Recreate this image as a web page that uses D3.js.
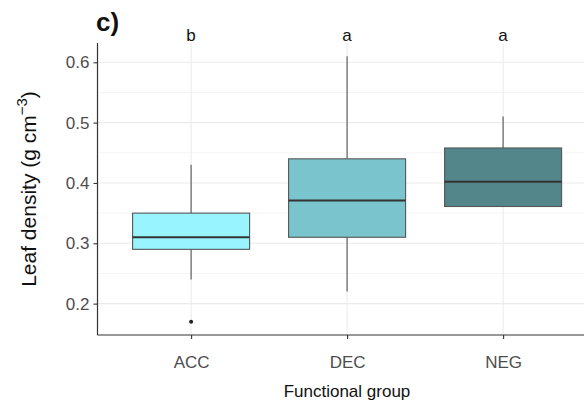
<!DOCTYPE html>
<html><head><meta charset="utf-8">
<script src="https://cdn.jsdelivr.net/npm/d3@7"></script>
<style>body{margin:0;background:#fff}svg{display:block;font-family:"Liberation Sans",Arial,sans-serif}</style>
</head><body><svg id="c" width="584" height="401"></svg>
<script>
const categories = ["ACC", "DEC", "NEG"];
const lowerWhisker = [0.24, 0.22, 0.36];
const q1 = [0.29, 0.31, 0.361];
const median = [0.31, 0.371, 0.402];
const q3 = [0.35, 0.44, 0.458];
const upperWhisker = [0.43, 0.61, 0.51];
const outliers = [[0.17], [], []];
const fills = ["#98F5FF", "#7AC5CD", "#53868B"];
const sigLetters = ["b", "a", "a"];
const yTicks = [0.2, 0.3, 0.4, 0.5, 0.6];
const yMinor = [0.25, 0.35, 0.45, 0.55];

(function () {
const svg = d3.select("#c");
const pLeft = 97.5, pBottom = 335, pTop = 43;
const step = 156;
const pRight = pLeft + 3.2 * step;
const x = d3.scalePoint().domain(categories).range([pLeft + 0.6 * step, pRight - 0.6 * step]);
const y = d3.scaleLinear().domain([0.148, 0.632]).range([pBottom, pTop]);
const bw = 0.75 * step;

const g = svg.append("g");
g.selectAll(".minor").data(yMinor).join("line")
  .attr("x1", pLeft).attr("x2", pRight).attr("y1", d => y(d)).attr("y2", d => y(d))
  .attr("stroke", "#F2F2F2").attr("stroke-width", 0.8);
g.selectAll(".major").data(yTicks).join("line")
  .attr("x1", pLeft).attr("x2", pRight).attr("y1", d => y(d)).attr("y2", d => y(d))
  .attr("stroke", "#EBEBEB").attr("stroke-width", 1.1);
g.selectAll(".vmajor").data(categories).join("line")
  .attr("x1", d => x(d)).attr("x2", d => x(d)).attr("y1", pTop).attr("y2", pBottom)
  .attr("stroke", "#EBEBEB").attr("stroke-width", 1.1);

categories.forEach((c, i) => {
  const cx = x(c);
  const bg = g.append("g");
  bg.append("line").attr("x1", cx).attr("x2", cx).attr("y1", y(upperWhisker[i])).attr("y2", y(q3[i]))
    .attr("stroke", "#555").attr("stroke-width", 1.1);
  bg.append("line").attr("x1", cx).attr("x2", cx).attr("y1", y(q1[i])).attr("y2", y(lowerWhisker[i]))
    .attr("stroke", "#555").attr("stroke-width", 1.1);
  bg.append("rect").attr("x", cx - bw / 2).attr("width", bw)
    .attr("y", y(q3[i])).attr("height", y(q1[i]) - y(q3[i]))
    .attr("fill", fills[i]).attr("stroke", "#555").attr("stroke-width", 1.1);
  bg.append("line").attr("x1", cx - bw / 2).attr("x2", cx + bw / 2).attr("y1", y(median[i])).attr("y2", y(median[i]))
    .attr("stroke", "#333").attr("stroke-width", 2);
  bg.selectAll("circle").data(outliers[i]).join("circle")
    .attr("cx", cx).attr("cy", d => y(d)).attr("r", 2).attr("fill", "#222");
  svg.append("text").attr("x", cx).attr("y", 41).attr("text-anchor", "middle")
    .attr("font-size", 17).attr("fill", "#111").text(sigLetters[i]);
});

const ya = svg.append("g").attr("transform", `translate(${pLeft},0)`)
  .call(d3.axisLeft(y).tickValues(yTicks).tickSize(4).tickPadding(4).tickFormat(d3.format(".1f")));
ya.select(".domain").attr("d", `M0,${pTop}V${pBottom}`).attr("stroke", "#333").attr("stroke-width", 1.2);
ya.selectAll(".tick line").attr("stroke", "#333").attr("stroke-width", 1.1);
ya.selectAll("text").attr("font-size", 17).attr("fill", "#4D4D4D").attr("font-family", "Liberation Sans, Arial, sans-serif");

const xa = svg.append("g").attr("transform", `translate(0,${pBottom})`)
  .call(d3.axisBottom(x).tickSize(4).tickPadding(16.5));
xa.select(".domain").attr("d", `M${pLeft},0H${pRight}`).attr("stroke", "#333").attr("stroke-width", 1.2);
xa.selectAll(".tick line").attr("stroke", "#333").attr("stroke-width", 1.1);
xa.selectAll("text").attr("font-size", 17).attr("fill", "#4D4D4D").attr("font-family", "Liberation Sans, Arial, sans-serif");

svg.append("text").attr("x", 347).attr("y", 397).attr("text-anchor", "middle")
  .attr("font-size", 17).attr("fill", "#111").text("Functional group");
const yt = svg.append("text").attr("transform", "translate(36,189) rotate(-90)")
  .attr("text-anchor", "middle").attr("font-size", 21).attr("fill", "#111");
yt.append("tspan").text("Leaf density (g cm");
yt.append("tspan").attr("dy", -9).attr("font-size", 15).text("\u22123");
yt.append("tspan").attr("dy", 9).text(")");
svg.append("text").attr("x", 96).attr("y", 31).attr("font-size", 26).attr("font-weight", "bold")
  .attr("fill", "#111").text("c)");
})();
</script></body></html>
